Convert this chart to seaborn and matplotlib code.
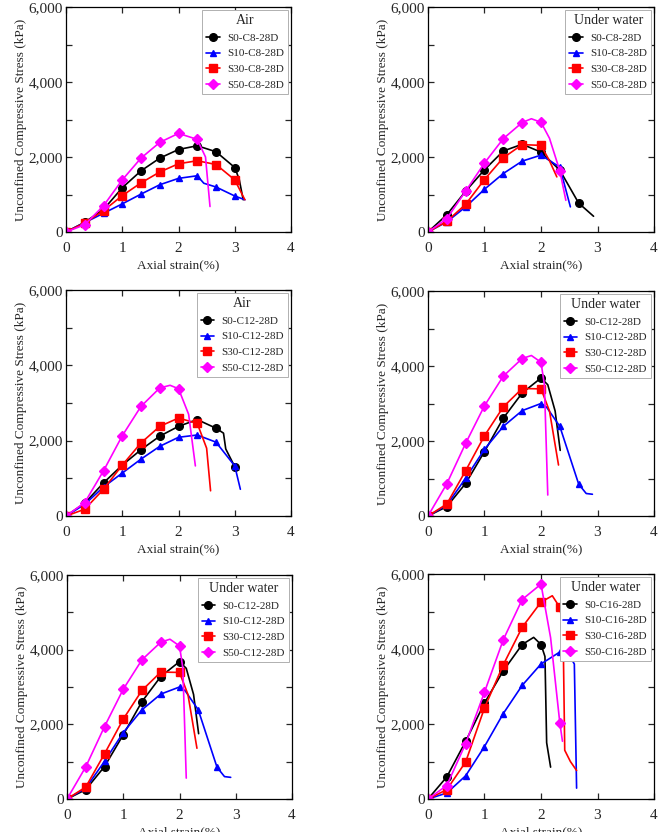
import numpy as np
import pandas as pd
import matplotlib
matplotlib.use("Agg")
import matplotlib.pyplot as plt
from matplotlib.lines import Line2D
from matplotlib.ticker import MultipleLocator, FuncFormatter
import seaborn as sns

sns.set_style("ticks")
plt.rcParams['font.family'] = ['Liberation Serif', 'DejaVu Serif']

# strain positions of the marked points (%)
strain_marks = [0, 0.333, 0.667, 1.0, 1.333, 1.667, 2.0, 2.333, 2.667, 3.0]

# --- Air, C8 ---
air_c8_s0 = [0, 260, 600, 1180, 1630, 1970, 2200, 2300, 2140, 1720]
air_c8_s0_tail = ([3.08, 3.15], [1400, 860])
air_c8_s10 = [0, 250, 500, 750, 1010, 1260, 1430, 1500, 1200, 960]
air_c8_s10_tail = ([2.45, 3.18], [1300, 860])
air_c8_s30 = [0, 240, 570, 970, 1310, 1600, 1820, 1900, 1800, 1390]
air_c8_s30_tail = ([3.18], [860])
air_c8_s50 = [0, 195, 700, 1390, 1970, 2390, 2630, 2470]
air_c8_s50_tail = ([2.48, 2.56], [2000, 680])

# --- Under water, C8 ---
wat_c8_s0 = [0, 460, 1090, 1660, 2160, 2340, 2130, 1650, 770]
wat_c8_s0_tail = ([2.93], [420])
wat_c8_s10 = [0, 270, 670, 1140, 1560, 1890, 2050, 1730]
wat_c8_s10_tail = ([2.52], [670])
wat_c8_s30 = [0, 285, 740, 1400, 1980, 2330, 2310]
wat_c8_s30_tail = ([2.15, 2.28], [1900, 1470])
wat_c8_s50 = [0, 356, 1090, 1840, 2490, 2920, 2925, 1630]
wat_c8_s50_tail = ([1.83, 2.15, 2.44], [3020, 2500, 845])

# --- Air, C12 ---
air_c12_s0 = [0, 340, 880, 1350, 1760, 2120, 2380, 2560, 2330, 1310]
air_c12_s0_tail = ([2.8, 2.84, 3.07], [2200, 1780, 1220])
air_c12_s10 = [0, 310, 770, 1140, 1510, 1850, 2090, 2150, 1960, 1330]
air_c12_s10_tail = ([3.1], [710])
air_c12_s30 = [0, 180, 710, 1350, 1940, 2380, 2600, 2460]
air_c12_s30_tail = ([2.5, 2.57], [1800, 670])
air_c12_s50 = [0, 356, 1200, 2130, 2910, 3400, 3380]
air_c12_s50_tail = ([1.85, 2.18, 2.3], [3470, 2700, 1330])

# --- Under water, C12 ---
wat_c12_s0 = [0, 250, 870, 1720, 2610, 3280, 3680]
wat_c12_s0_tail = ([2.12, 2.25, 2.34], [3500, 2800, 1750])
wat_c12_s10 = [0, 290, 1010, 1780, 2390, 2810, 3000, 2390, 850]
wat_c12_s10_tail = ([2.1, 2.8, 2.91], [2900, 600, 580])
wat_c12_s30 = [0, 320, 1210, 2140, 2910, 3400, 3390]
wat_c12_s30_tail = ([2.15, 2.31], [2800, 1360])
wat_c12_s50 = [0, 860, 1940, 2940, 3730, 4200, 4100]
wat_c12_s50_tail = ([1.83, 2.06, 2.12], [4280, 3500, 560])

# --- Under water, C16 ---
wat_c16_s0 = [0, 590, 1540, 2560, 3420, 4120, 4120]
wat_c16_s0_tail = ([1.87, 2.07, 2.1, 2.17], [4310, 3800, 1500, 850])
wat_c16_s10 = [0, 160, 620, 1400, 2280, 3030, 3600, 3920]
wat_c16_s10_tail = ([2.45, 2.59, 2.63], [3960, 3600, 290])
wat_c16_s30 = [0, 250, 990, 2430, 3580, 4580, 5250, 5110]
wat_c16_s30_tail = ([2.2, 2.39, 2.42, 2.52, 2.63], [5420, 4600, 1300, 1000, 760])
wat_c16_s50 = [0, 360, 1480, 2850, 4250, 5320, 5730, 2030]
wat_c16_s50_tail = ([2.17, 2.38], [4300, 1540])

colors = ['black', '#0000ff', '#ff0000', '#ff00ff']
markers = ['o', '^', 's', 'D']
msizes = [5.5, 5, 5.5, 5]

panels = [
    ("Air", "C8", [air_c8_s0, air_c8_s10, air_c8_s30, air_c8_s50],
     [air_c8_s0_tail, air_c8_s10_tail, air_c8_s30_tail, air_c8_s50_tail]),
    ("Under water", "C8", [wat_c8_s0, wat_c8_s10, wat_c8_s30, wat_c8_s50],
     [wat_c8_s0_tail, wat_c8_s10_tail, wat_c8_s30_tail, wat_c8_s50_tail]),
    ("Air", "C12", [air_c12_s0, air_c12_s10, air_c12_s30, air_c12_s50],
     [air_c12_s0_tail, air_c12_s10_tail, air_c12_s30_tail, air_c12_s50_tail]),
    ("Under water", "C12", [wat_c12_s0, wat_c12_s10, wat_c12_s30, wat_c12_s50],
     [wat_c12_s0_tail, wat_c12_s10_tail, wat_c12_s30_tail, wat_c12_s50_tail]),
    ("Under water", "C12", [wat_c12_s0, wat_c12_s10, wat_c12_s30, wat_c12_s50],
     [wat_c12_s0_tail, wat_c12_s10_tail, wat_c12_s30_tail, wat_c12_s50_tail]),
    ("Under water", "C16", [wat_c16_s0, wat_c16_s10, wat_c16_s30, wat_c16_s50],
     [wat_c16_s0_tail, wat_c16_s10_tail, wat_c16_s30_tail, wat_c16_s50_tail]),
]
sand = ['S0', 'S10', 'S30', 'S50']

W, H = 659, 832
fig = plt.figure(figsize=(W / 100, H / 100), dpi=100)

# axes boxes in pixels: left, top, right, bottom
boxes = [(66, 7, 291, 232), (428, 7, 654, 232),
         (66, 290, 291, 516), (428, 291, 654, 516),
         (67, 575, 292, 799), (428, 574, 654, 799)]

for (cond, cem, series, tails), (l, t, r, b) in zip(panels, boxes):
    ax = fig.add_axes([l / W, 1 - b / H, (r - l) / W, (b - t) / H])
    handles = []
    for k, (ys, tail) in enumerate(zip(series, tails)):
        xm = strain_marks[:len(ys)]
        df = pd.DataFrame({'x': list(xm) + list(tail[0]), 'y': list(ys) + list(tail[1])})
        sns.lineplot(data=df, x='x', y='y', ax=ax, color=colors[k], lw=1.2,
                     estimator=None, sort=True)
        ax.plot(xm, ys, linestyle='none', marker=markers[k], ms=msizes[k],
                color=colors[k], mec=colors[k])
        handles.append(Line2D([], [], color=colors[k], lw=1.2, marker=markers[k],
                              ms=msizes[k], label=f"{sand[k]}-{cem}-28D"))
    ax.set_xlim(0, 4)
    ax.set_ylim(0, 6000)
    ax.xaxis.set_major_locator(MultipleLocator(1))
    ax.yaxis.set_major_locator(MultipleLocator(2000))
    ax.yaxis.set_minor_locator(MultipleLocator(1000))
    ax.yaxis.set_major_formatter(FuncFormatter(lambda v, p: f"{int(v):,}"))
    ax.tick_params(which='both', direction='in', top=True, right=True,
                   length=4, width=0.9, labelsize=11)
    ax.tick_params(axis='x', pad=7)
    ax.tick_params(axis='y', pad=2)
    for s in ax.spines.values():
        s.set_linewidth(0.9)
        s.set_color('black')
    ax.set_xlabel("Axial strain(%)", fontsize=9.5, labelpad=3)
    ax.set_ylabel("Unconfined Compressive Stress (kPa)", fontsize=9.5, labelpad=1)
    leg = ax.legend(handles=handles, title=cond, loc='upper right', fontsize=8,
                    title_fontsize=10, frameon=True, fancybox=False,
                    borderaxespad=0.25, handlelength=1.2, handletextpad=0.7,
                    labelspacing=0.55, borderpad=0.35)
    leg.get_frame().set_edgecolor('#b0b0b0')
    leg.get_frame().set_linewidth(0.7)
    leg.get_frame().set_alpha(1)

fig.savefig("out.png", dpi=100)
